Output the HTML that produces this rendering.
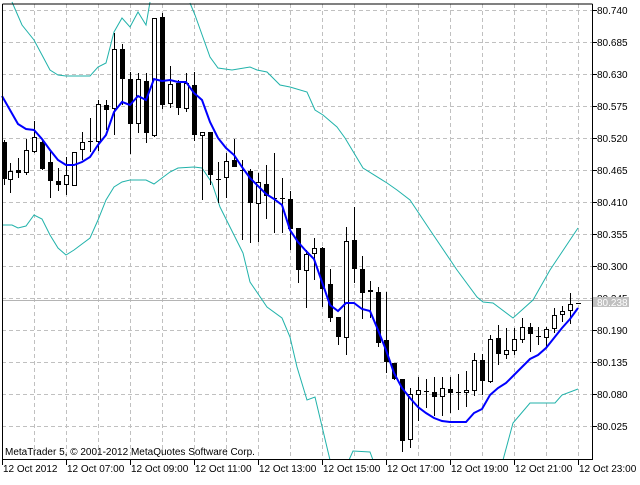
<!DOCTYPE html>
<html><head><meta charset="utf-8"><style>
body{margin:0;background:#fff;width:640px;height:480px;overflow:hidden}
text{font-family:"Liberation Sans",sans-serif;font-size:10px;fill:#000}
</style></head><body>
<svg width="640" height="480" viewBox="0 0 640 480" xmlns="http://www.w3.org/2000/svg">
<rect width="640" height="480" fill="#fff"/>
<g stroke="#c0c0c0" stroke-dasharray="4,3" stroke-width="1">
<path d="M34.5 4V459M66.5 4V459M98.5 4V459M130.5 4V459M162.5 4V459M194.5 4V459M226.5 4V459M258.5 4V459M290.5 4V459M322.5 4V459M354.5 4V459M386.5 4V459M418.5 4V459M450.5 4V459M482.5 4V459M514.5 4V459M546.5 4V459M578.5 4V459"/>
<path d="M2 10.5H592M2 42.5H592M2 74.5H592M2 106.5H592M2 138.5H592M2 170.5H592M2 202.5H592M2 234.5H592M2 266.5H592M2 298.5H592M2 330.5H592M2 362.5H592M2 394.5H592M2 426.5H592"/>
</g>
<path d="M2 300.5H592" stroke="#b4b4b4" stroke-width="1"/>
<g fill="none" stroke="#20b2aa" stroke-width="1">
<polyline points="12,2 22,25 34,40 42,55 50,70 58,75 66,76 90,76 98,67 106,63 114,32 122,18 130,27 138,12 146,25 150,2"/>
<polyline points="190,3 195,15 210,57 218,68 232,70 250,67 257,70 267,72 280,85 290,87 307,92 315,110 323,115 337,127 345,138 363,168 387,183 397,190 410,200 430,230 457,270 477,297 483,302 493,303 513,318 533,300 550,270 560,255 578,228"/>
<polyline points="2,225 12,225 18,228 26,226 34,215 42,219 50,235 58,248 66,255 74,250 82,244 90,238 98,220 106,200 114,187 122,182 130,180 146,180 154,184 162,178 170,172 178,168 194,167 202,168 212,183 220,207 243,253 250,282 267,307 282,318 290,337 297,367 307,400 315,397 330,460"/>
<polyline points="349,460 353,451 370,452 373,460"/>
<polyline points="503,460 513,423 530,403 555,403 562,395 578,389"/>
</g>
<g stroke="#000" stroke-width="1">
<path d="M4.5 140V185M10.5 163V193M18.5 158V178M26.5 139V175M34.5 121V153M42.5 139V170M50.5 150V198M58.5 168V191M66.5 157V195M74.5 152V185M82.5 132V160M90.5 118V152M98.5 100V151M106.5 100V130M114.5 33V135M122.5 44V105M130.5 72V154M138.5 73V133M146.5 73V143M154.5 18V137M162.5 13V109M170.5 66V108M178.5 80V115M186.5 73V112M194.5 72V141M202.5 132V200M210.5 132V185M218.5 162V203M226.5 153V198M234.5 139V167M242.5 160V240M250.5 169V243M258.5 173V242M266.5 165V219M274.5 153V233M282.5 178V233M290.5 191V250M298.5 228V283M306.5 250V308M314.5 238V280M322.5 247V307M330.5 269V322M338.5 317V345M346.5 227V355M354.5 207V283M362.5 256V319M370.5 281V318M378.5 287V347M386.5 292V373M394.5 363V380M402.5 379V452M410.5 388V448M418.5 377V421M426.5 379V408M434.5 377V416M442.5 377V416M450.5 377V413M458.5 374V410M466.5 371V407M474.5 353V396M482.5 354V395M490.5 335V383M498.5 325V365M506.5 328V359M514.5 328V355M522.5 318V343M530.5 323V352M538.5 327V345M546.5 327V347M554.5 308V333M562.5 306V322M570.5 293V324"/>
<path d="M88 141.5H93M216 179.5H221M240 170.5H245M272 198.5H277M280 198.5H285M424 391.5H429M456 392.5H461M536 336.5H541M576 303.5H581"/>
</g>
<g fill="#000">
<rect x="2" y="142" width="5" height="37"/><rect x="16" y="170" width="5" height="3"/><rect x="40" y="142" width="5" height="27"/><rect x="48" y="162" width="5" height="19"/><rect x="56" y="181" width="5" height="4"/><rect x="104" y="105" width="5" height="5"/><rect x="120" y="49" width="5" height="30"/><rect x="128" y="79" width="5" height="45"/><rect x="144" y="81" width="5" height="52"/><rect x="160" y="17" width="5" height="88"/><rect x="176" y="83" width="5" height="25"/><rect x="192" y="85" width="5" height="50"/><rect x="208" y="132" width="5" height="43"/><rect x="232" y="160" width="5" height="7"/><rect x="248" y="171" width="5" height="32"/><rect x="264" y="184" width="5" height="12"/><rect x="288" y="199" width="5" height="30"/><rect x="296" y="228" width="5" height="42"/><rect x="320" y="248" width="5" height="41"/><rect x="328" y="284" width="5" height="34"/><rect x="336" y="317" width="5" height="20"/><rect x="352" y="240" width="5" height="29"/><rect x="360" y="269" width="5" height="24"/><rect x="368" y="290" width="5" height="2"/><rect x="376" y="292" width="5" height="51"/><rect x="384" y="340" width="5" height="22"/><rect x="392" y="363" width="5" height="16"/><rect x="400" y="379" width="5" height="62"/><rect x="432" y="392" width="5" height="5"/><rect x="448" y="389" width="5" height="4"/><rect x="480" y="360" width="5" height="21"/><rect x="496" y="338" width="5" height="16"/><rect x="528" y="327" width="5" height="7"/>
</g>
<g fill="#fff" stroke="#000" stroke-width="1">
<rect x="8.5" y="171.5" width="4" height="8"/><rect x="24.5" y="150.5" width="4" height="22"/><rect x="32.5" y="137.5" width="4" height="14"/><rect x="64.5" y="175.5" width="4" height="9"/><rect x="72.5" y="152.5" width="4" height="33"/><rect x="80.5" y="142.5" width="4" height="7"/><rect x="96.5" y="104.5" width="4" height="37"/><rect x="112.5" y="49.5" width="4" height="59"/><rect x="136.5" y="79.5" width="4" height="44"/><rect x="152.5" y="18.5" width="4" height="117"/><rect x="168.5" y="84.5" width="4" height="19"/><rect x="184.5" y="83.5" width="4" height="25"/><rect x="200.5" y="132.5" width="4" height="3"/><rect x="224.5" y="161.5" width="4" height="16"/><rect x="256.5" y="182.5" width="4" height="21"/><rect x="304.5" y="254.5" width="4" height="16"/><rect x="312.5" y="248.5" width="4" height="5"/><rect x="344.5" y="241.5" width="4" height="96"/><rect x="408.5" y="394.5" width="4" height="45"/><rect x="416.5" y="390.5" width="4" height="4"/><rect x="440.5" y="388.5" width="4" height="8"/><rect x="464.5" y="390.5" width="4" height="2"/><rect x="472.5" y="360.5" width="4" height="30"/><rect x="488.5" y="339.5" width="4" height="42"/><rect x="504.5" y="350.5" width="4" height="4"/><rect x="512.5" y="339.5" width="4" height="11"/><rect x="520.5" y="327.5" width="4" height="12"/><rect x="544.5" y="329.5" width="4" height="8"/><rect x="552.5" y="315.5" width="4" height="13"/><rect x="560.5" y="311.5" width="4" height="3"/><rect x="568.5" y="304.5" width="4" height="6"/>
</g>
<polyline fill="none" stroke="#0000ff" stroke-width="2" points="2,96 10,110 18,124 26,129 34,130 42,139 50,150 58,160 66,165 74,165 82,162 90,157 98,145 106,135 114,112 122,102 130,105 138,96 146,100 154,79 162,81 170,80 178,82 186,82 194,93 202,100 210,122 218,138 226,148 234,155 242,167 250,178 258,186 266,194 274,199 282,205 290,230 298,242 306,251 314,259 322,282 330,305 338,311 346,303 354,303 362,309 370,311 378,330 386,350 394,373 402,388 410,398 418,407 426,413 434,418 442,421 450,422 466,422 474,413 482,409 490,395 498,388 506,383 514,375 522,367 530,359 538,355 546,348 554,338 562,328 570,319 578,308"/>
<path d="M2.5 4V459.5H592.5V4" fill="none" stroke="#000" stroke-width="1"/>
<path d="M2.5 4H592.5" stroke="#000"/>
<g stroke="#000"><path d="M2.5 459V465M66.5 459V465M130.5 459V465M194.5 459V465M258.5 459V465M322.5 459V465M386.5 459V465M450.5 459V465M514.5 459V465M578.5 459V465"/>
<path d="M592 10.5H597M592 42.5H597M592 74.5H597M592 106.5H597M592 138.5H597M592 170.5H597M592 202.5H597M592 234.5H597M592 266.5H597M592 298.5H597M592 330.5H597M592 362.5H597M592 394.5H597M592 426.5H597"/></g>
<g>
<text x="597" y="14">80.740</text><text x="597" y="46">80.685</text><text x="597" y="78">80.630</text><text x="597" y="110">80.575</text><text x="597" y="142">80.520</text><text x="597" y="174">80.465</text><text x="597" y="206">80.410</text><text x="597" y="238">80.355</text><text x="597" y="270">80.300</text><text x="597" y="302">80.245</text><text x="597" y="334">80.190</text><text x="597" y="366">80.135</text><text x="597" y="398">80.080</text><text x="597" y="430">80.025</text>
</g>
<rect x="593" y="297" width="36" height="10" fill="#c0c0c0"/>
<text x="597" y="306" style="fill:#fff">80.238</text>
<text x="5" y="455">MetaTrader 5, © 2001-2012 MetaQuotes Software Corp.</text>
<g>
<text x="3" y="472">12 Oct 2012</text><text x="67" y="472">12 Oct 07:00</text><text x="131" y="472">12 Oct 09:00</text><text x="195" y="472">12 Oct 11:00</text><text x="259" y="472">12 Oct 13:00</text><text x="323" y="472">12 Oct 15:00</text><text x="387" y="472">12 Oct 17:00</text><text x="451" y="472">12 Oct 19:00</text><text x="515" y="472">12 Oct 21:00</text><text x="579" y="472">12 Oct 23:00</text>
</g>
</svg>
</body></html>
